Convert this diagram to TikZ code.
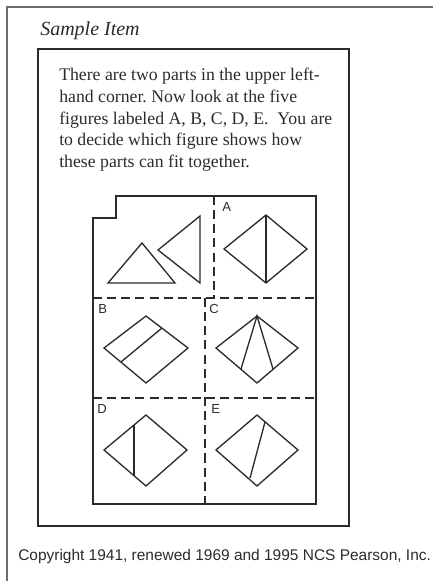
\documentclass[tikz,border=0pt]{standalone}
\usepackage{fontspec}
\setmainfont{Liberation Serif}
\setsansfont{Liberation Sans}
\usetikzlibrary{positioning}
\frenchspacing
\definecolor{inkgray}{HTML}{2B2B2B}
\definecolor{pagegray}{HTML}{6E6E6E}
\tikzset{
  pageline/.style={draw=pagegray, line width=0.8pt},
  frame/.style={draw=inkgray, line width=1.15pt},
  piece/.style={draw=inkgray, line width=1pt, line join=miter},
  cut/.style={draw=inkgray, line width=1.1pt, dash pattern=on 6.8pt off 3.8pt},
  tag/.style={font=\sffamily\fontsize{9.8}{11}\selectfont, inner sep=0pt, anchor=base west, text=inkgray},
  bodytext/.style={font=\fontsize{13.3}{16.3}\selectfont, inner sep=0pt, align=left, text=inkgray},
}

\begin{document}
\begin{tikzpicture}[x=0.75pt, y=-0.75pt]
  \useasboundingbox (0,0) rectangle (433,581);
  % page frame and text box
  \draw[pageline] (7,581) -- (7,7) -- (433,7);
  \node[font=\itshape\fontsize{15}{18}\selectfont, inner sep=0pt, anchor=base west, text=inkgray] (title) at (40,36) {Sample Item};
  \draw[frame] (38,49) rectangle (349,526);
  \node[bodytext, anchor=north west] (intro) at (59,68) {There are two parts in the upper left-\\hand corner. Now look at the five\\figures labeled A, B, C, D, E.\ \ You are\\to decide which figure shows how\\these parts can fit together.};
  % puzzle grid
  \draw[frame] (116,196) -- (316,196) -- (316,504) -- (93,504) -- (93,218) -- (116,218) -- cycle;
  \draw[cut] (214,196) -- (214,298);
  \draw[cut] (93,298) -- (316,298);
  \draw[cut] (205,298) -- (205,504);
  \draw[cut] (93,398) -- (316,398);
  \node[tag] (labA) at (222,211) {A};
  \node[tag] (labB) at (98,313) {B};
  \node[tag] (labC) at (209,313) {C};
  \node[tag] (labD) at (97,413) {D};
  \node[tag] (labE) at (211,413) {E};
  % the two parts
  \draw[piece] (108,283) -- (175,283) -- (142,243) -- cycle;
  \draw[piece] (158,250) -- (200,216) -- (200,283) -- cycle;
  % A
  \draw[piece] (224,249) -- (266,215) -- (307,249) -- (266,283) -- cycle;
  \draw[piece] (266,215) -- (266,283);
  % B
  \draw[piece] (104,348) -- (146,316) -- (188,348) -- (146,383) -- cycle;
  \draw[piece] (121,362) -- (162,328);
  % C
  \draw[piece] (216,348) -- (257,316) -- (298,348) -- (257,383) -- cycle;
  \draw[piece] (241,369) -- (257,316) -- (273,369);
  % D
  \draw[piece] (104,450) -- (146,415) -- (187,450) -- (146,486) -- cycle;
  \draw[piece] (134,425) -- (134,476);
  % E
  \draw[piece] (216,450) -- (257,415) -- (298,450) -- (257,486) -- cycle;
  \draw[piece] (265,422) -- (250,478);
  \node[font=\sffamily\fontsize{11.6}{14}\selectfont, inner sep=0pt, anchor=base west, text=inkgray] (credit) at (18,560) {Copyright 1941, renewed 1969 and 1995 NCS Pearson, Inc.};
\end{tikzpicture}
\end{document}
